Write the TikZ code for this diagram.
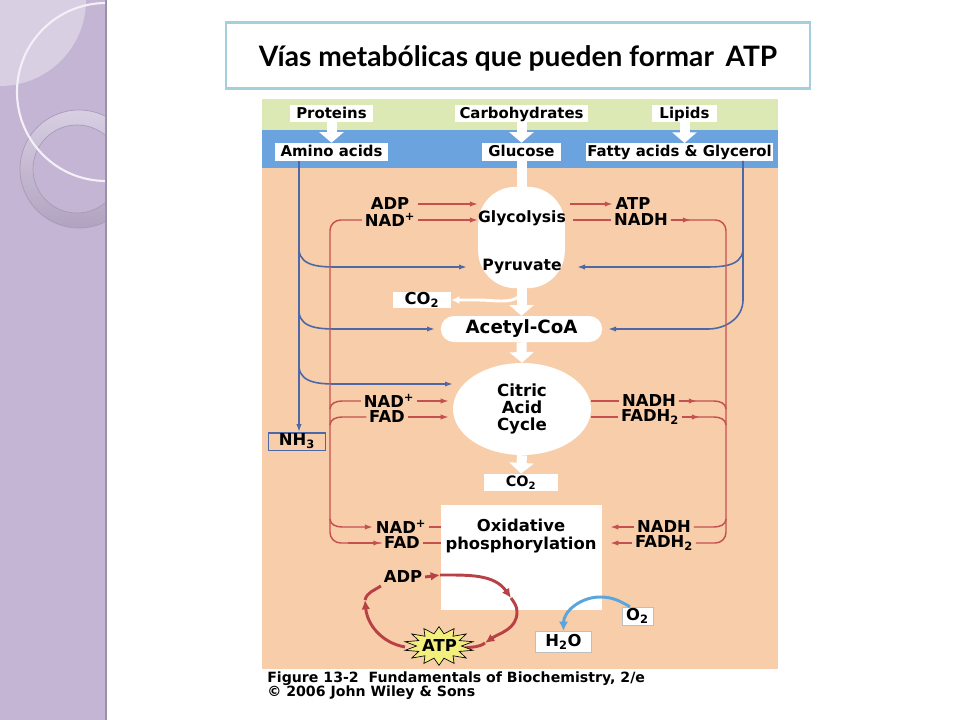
\documentclass[tikz,border=0pt]{standalone}
\usepackage{fontspec}
\setmainfont{DejaVu Sans}
\newfontfamily\titlefont{Lato}
\usetikzlibrary{arrows.meta,shapes.geometric,calc}
\definecolor{sidelilac}{HTML}{C4B5D5}
\definecolor{sidelight}{HTML}{D8CFE3}
\definecolor{titleline}{HTML}{A5CFDC}
\definecolor{bandgreen}{HTML}{DCE9B4}
\definecolor{bandblue}{HTML}{6BA3DE}
\definecolor{bandpeach}{HTML}{F8CDAA}
\definecolor{pathred}{HTML}{C4504F}
\definecolor{cyclered}{HTML}{B84145}
\definecolor{pathblue}{HTML}{4C68A6}
\definecolor{waterblue}{HTML}{5AA5DC}
\definecolor{staryellow}{HTML}{F3EF7F}
\tikzset{
  txt/.style={font=\fontsize{12.3}{13}\selectfont\bfseries,inner sep=2pt,align=center},
  toptxt/.style={font=\fontsize{11.2}{13}\selectfont\bfseries,fill=white,inner sep=0pt,text height=9pt,text depth=2.2pt},
  whitebox/.style={txt,fill=white,inner sep=0pt},
  whiteshape/.style={fill=white,inner sep=0pt},
  redline/.style={draw=pathred,line width=1.1pt},
  redtip/.style={redline,-{Latex[length=6pt,width=4pt]}},
  blueline/.style={draw=pathblue,line width=1.2pt},
  bluetip/.style={blueline,-{Latex[length=6pt,width=4pt]}},
  whitearrow/.style={draw=white,line width=7.5pt,-{Triangle[length=8pt,width=18pt]}},
  cycleline/.style={draw=cyclered,line width=2.2pt},
  cycletip/.style={cycleline,-{Latex[length=7pt,width=6.5pt]}}
}
\begin{document}
\begin{tikzpicture}[x=0.75pt,y=-0.75pt]
\useasboundingbox (0,0) rectangle (960,720);
\fill[white] (0,0) rectangle (960,720);
% side panel
\begin{scope}
\clip (0,0) rectangle (106,720);
\fill[sidelilac] (0,0) rectangle (106,720);
\fill[sidelight] (0,0) -- (86,0) arc (0:90:86) -- cycle;
\shade[top color=sidelight,bottom color=sidelilac!90!black,even odd rule] (79,169) circle (59) (77,169) circle (44);
\draw[sidelilac!85!black,line width=0.5pt] (79,169) circle (59) (77,169) circle (44);
\draw[white!80!sidelilac,line width=1.6pt] (106,92) circle (89);
\end{scope}
\draw[sidelilac!80!black,line width=0.8pt] (106,0) -- (106,720);
% title
\node (title) [draw=titleline,line width=2pt,fill=white,minimum width=438pt,minimum height=49.5pt,inner sep=0pt,text height=18pt,text depth=2.2pt,font=\titlefont\fontsize{21.1}{24}\selectfont\bfseries] at (518,55.5) {Vías metabólicas que pueden formar\, ATP};
% bands
\fill[bandgreen] (262,99) rectangle (778,130);
\fill[bandblue] (262,130) rectangle (778,168);
\fill[bandpeach] (262,168) rectangle (778,669);
% boxes of the top rows
\node (proteins) [toptxt,minimum width=62pt,minimum height=13pt] at (331.5,113.5) {Proteins};
\node (carbs) [toptxt,minimum width=100pt,minimum height=13pt] at (521.5,113.5) {Carbohydrates};
\node (lipids) [toptxt,minimum width=49pt,minimum height=13pt] at (684.5,113.5) {Lipids};
\node (amino) [toptxt,minimum width=85pt,minimum height=13.5pt] at (331.5,152) {Amino acids};
\node (glucose) [toptxt,minimum width=59pt,minimum height=13.5pt] at (521.5,152) {Glucose};
\node (fatty) [toptxt,minimum width=140pt,minimum height=13.5pt] at (679.5,152) {Fatty acids \& Glycerol};
% white shapes
\node (glycap) [whiteshape,rounded corners=28pt,minimum width=65pt,minimum height=76pt] at (521.5,237.5) {};
\node (acetyl) [whiteshape,rounded corners=9.7pt,minimum width=121pt,minimum height=19.5pt,font=\fontsize{13.7}{14}\selectfont\bfseries] at (521.5,329) {Acetyl-CoA};
\node (citric) [whiteshape,ellipse,minimum width=103.5pt,minimum height=69pt,font=\fontsize{12.5}{13}\selectfont\bfseries,align=center] at (522,409) {Citric\\Acid\\Cycle};
\node (oxbox) [whiteshape,minimum width=120.75pt,minimum height=78.75pt] at (521.5,557.5) {};
\node (co2a) [whitebox,minimum width=43.5pt,minimum height=12.5pt] at (422,300) {CO\textsubscript{2}};
\node (co2b) [whitebox,minimum width=55.5pt,minimum height=13pt,font=\fontsize{10.8}{11}\selectfont\bfseries] at (521,482.5) {CO\textsubscript{2}};
% white arrows
\coordinate (fattyin) at (684.5,143);
\draw[whitearrow] (proteins) -- (amino);
\draw[whitearrow] (carbs) -- (glucose);
\draw[whitearrow] (lipids) -- (fattyin);
\draw[draw=white,line width=7.5pt] (glucose) -- (glycap);
\draw[whitearrow] (glycap.south) -- (acetyl.north);
\draw[whitearrow] (acetyl.south) -- (citric.north);
\draw[whitearrow] (citric.south) -- (co2b.north);
\coordinate (co2bend) at (478,300);
\draw[draw=white,line width=2.2pt,-{Latex[length=6pt,width=6pt]}] (glycap.south) to[out=-90,in=0] (co2bend) -- (co2a.east);
% labels
\node (glycolysis) [txt,font=\fontsize{11.7}{13}\selectfont\bfseries] at (522,218) {Glycolysis};
\node (pyruvate) [txt,font=\fontsize{11.7}{13}\selectfont\bfseries] at (522,266) {Pyruvate};
\node (adpa) [txt] at (390,204) {ADP};
\node (nada) [txt] at (390,220) {NAD\textsuperscript{+}};
\node (atpa) [txt] at (633,204) {ATP};
\node (nadha) [txt] at (641,220) {NADH};
\node (nadb) [txt] at (389,401) {NAD\textsuperscript{+}};
\node (fadb) [txt] at (387,417) {FAD};
\node (nadhb) [txt] at (649,401) {NADH};
\node (fadhb) [txt] at (650,417) {FADH\textsubscript{2}};
\node (nadc) [txt] at (401,527) {NAD\textsuperscript{+}};
\node (fadc) [txt] at (402,543) {FAD};
\node (nadhc) [txt] at (664,527) {NADH};
\node (fadhc) [txt] at (664,543) {FADH\textsubscript{2}};
\node (oxtext) [txt] at (521,536) {Oxidative\\phosphorylation};
\node (adpc) [txt] at (403,577) {ADP};
\node (nh3) [txt,draw=pathblue,line width=1pt,minimum width=43pt,minimum height=13pt,inner sep=0pt] at (297,441.5) {NH\textsubscript{3}};
\node (otwo) [whitebox,draw=black!25,minimum width=23pt,minimum height=13.5pt] at (637.5,616) {O\textsubscript{2}};
\node (water) [whitebox,draw=black!25,minimum width=42pt,minimum height=15.5pt] at (563.5,641.5) {H\textsubscript{2}O};
% blue pathways
\coordinate (bluel) at (299,161);
\coordinate (bluer) at (743,161);
\coordinate (brpyrl) at (299,250);
\coordinate (braca) at (299,312);
\coordinate (brcit) at (299,367);
\coordinate (brpyrr) at (743,250);
\coordinate (pyrl) at (467,267);
\coordinate (pyrr) at (577,267);
\coordinate (acel) at (435,329);
\coordinate (acer) at (608,329);
\coordinate (citl) at (453,384);
\draw[bluetip] (bluel) -- (nh3.north -| bluel);
\foreach \from/\to in {brpyrl/pyrl,braca/acel,brcit/citl}
  \draw[bluetip] (\from) to[out=-85,in=180] ++(42,17) -- (\to);
\draw[bluetip] (brpyrr) to[out=-95,in=0] ++(-42,17) -- (pyrr);
\draw[bluetip] (bluer) -- (743,300) to[out=-90,in=0] (708,329) -- (acer);
% red pathways
\coordinate (redltop) at (330,220);
\coordinate (redlbot) at (330,543);
\coordinate (redrtop) at (726,220);
\coordinate (redrbot) at (726,543);
\draw[redline,rounded corners=8pt] (nada.west) -- (redltop) -- (redlbot) -- (fadc.west);
\draw[redline,rounded corners=8pt] (nadha.east) -- (redrtop) -- (redrbot) -- (fadhc.east);
\draw[redtip] (adpa.east) ++(6,0) -- (glycap.west |- adpa);
\draw[redtip] (nada.east) -- (glycap.west |- nada);
\draw[redtip] ($(glycap.east |- atpa)+(5,0)$) -- (atpa.west);
\draw[redline] (glycap.east |- nadha) ++(8,0) -- (nadha.west);
\draw[redtip] (nadha.east) -- ++(20,0);
\foreach \lab in {nadb,fadb}{
  \draw[redline] ($(redltop |- \lab)+(0,8)$) to[out=90,in=180] ($(redltop |- \lab)+(12,0)$) -- (\lab.west);
  \draw[redtip] (\lab.east) -- ($(\lab.east -| citric.west)+(-4,0)$);
}
\foreach \lab in {nadhb,fadhb}{
  \draw[redline] (citric.east |- \lab) -- (\lab.west);
  \draw[redline] ($(redrtop |- \lab)+(0,8)$) to[out=90,in=0] ($(redrtop |- \lab)+(-12,0)$) -- (\lab.east);
  \draw[redtip] (\lab.east) -- ++(18,0);
}
\draw[redtip] ($(redltop |- nadc)+(0,-8)$) to[out=-90,in=180] ($(redltop |- nadc)+(12,0)$) -- (nadc.west);
\draw[redtip] ($(redltop |- fadc)+(18,0)$) -- (fadc.west);
\draw[redline] (nadc.east) -- (oxbox.west |- nadc);
\draw[redline] (fadc.east) -- (oxbox.west |- fadc);
\draw[redline] ($(redrtop |- nadhc)+(0,-8)$) to[out=-90,in=0] ($(redrtop |- nadhc)+(-12,0)$) -- (nadhc.east);
\draw[redtip] (nadhc.west) -- ($(oxbox.east |- nadhc)+(8,0)$);
\draw[redtip] (fadhc.west) -- ($(oxbox.east |- fadhc)+(8,0)$);
% ATP cycle
\coordinate (cycd) at (440,575);
\coordinate (cyca) at (511,598);
\coordinate (cycr) at (517,612);
\coordinate (cycb) at (485,643);
\coordinate (cycc) at (365,600);
\coordinate (starw) at (405,647);
\coordinate (stare) at (465,648);
\draw[cycletip] (adpc.east) -- (cycd);
\draw[cycletip] (cycd) to[out=0,in=125] (cyca);
\draw[cycleline] (cyca) to[out=-55,in=90] (cycr);
\draw[cycletip] (cycr) to[out=-90,in=35] (cycb);
\draw[cycleline] (cycb) to[out=215,in=10] (stare);
\draw[cycletip] (starw) to[out=170,in=-85] (cycc);
\draw[cycleline] (cycc) to[out=75,in=215] (adpc.south west);
\node (atpstar) [star,star points=14,star point ratio=1.55,minimum size=29pt,inner sep=0pt,xscale=1.8,transform shape,fill=staryellow,draw=black,line width=0.5pt] at (439,646) {};
\node (atpc) [txt] at (439.5,646) {ATP};
% oxygen to water
\coordinate (otop) at (600,597);
\draw[draw=waterblue,line width=2.2pt,-{Latex[length=7pt,width=7pt]}] ($(otwo.north west)+(8,0)$) to[out=150,in=0] (otop) to[out=180,in=90] (water.north);
% caption
\node (capa) [anchor=west,inner sep=0pt,font=\fontsize{10.6}{12}\selectfont\bfseries] at (267,678.5) {Figure 13-2\ \ Fundamentals of Biochemistry, 2/e};
\node (capb) [anchor=west,inner sep=0pt,font=\fontsize{10.6}{12}\selectfont\bfseries] at (267,693) {© 2006 John Wiley \& Sons};
\end{tikzpicture}
\end{document}
